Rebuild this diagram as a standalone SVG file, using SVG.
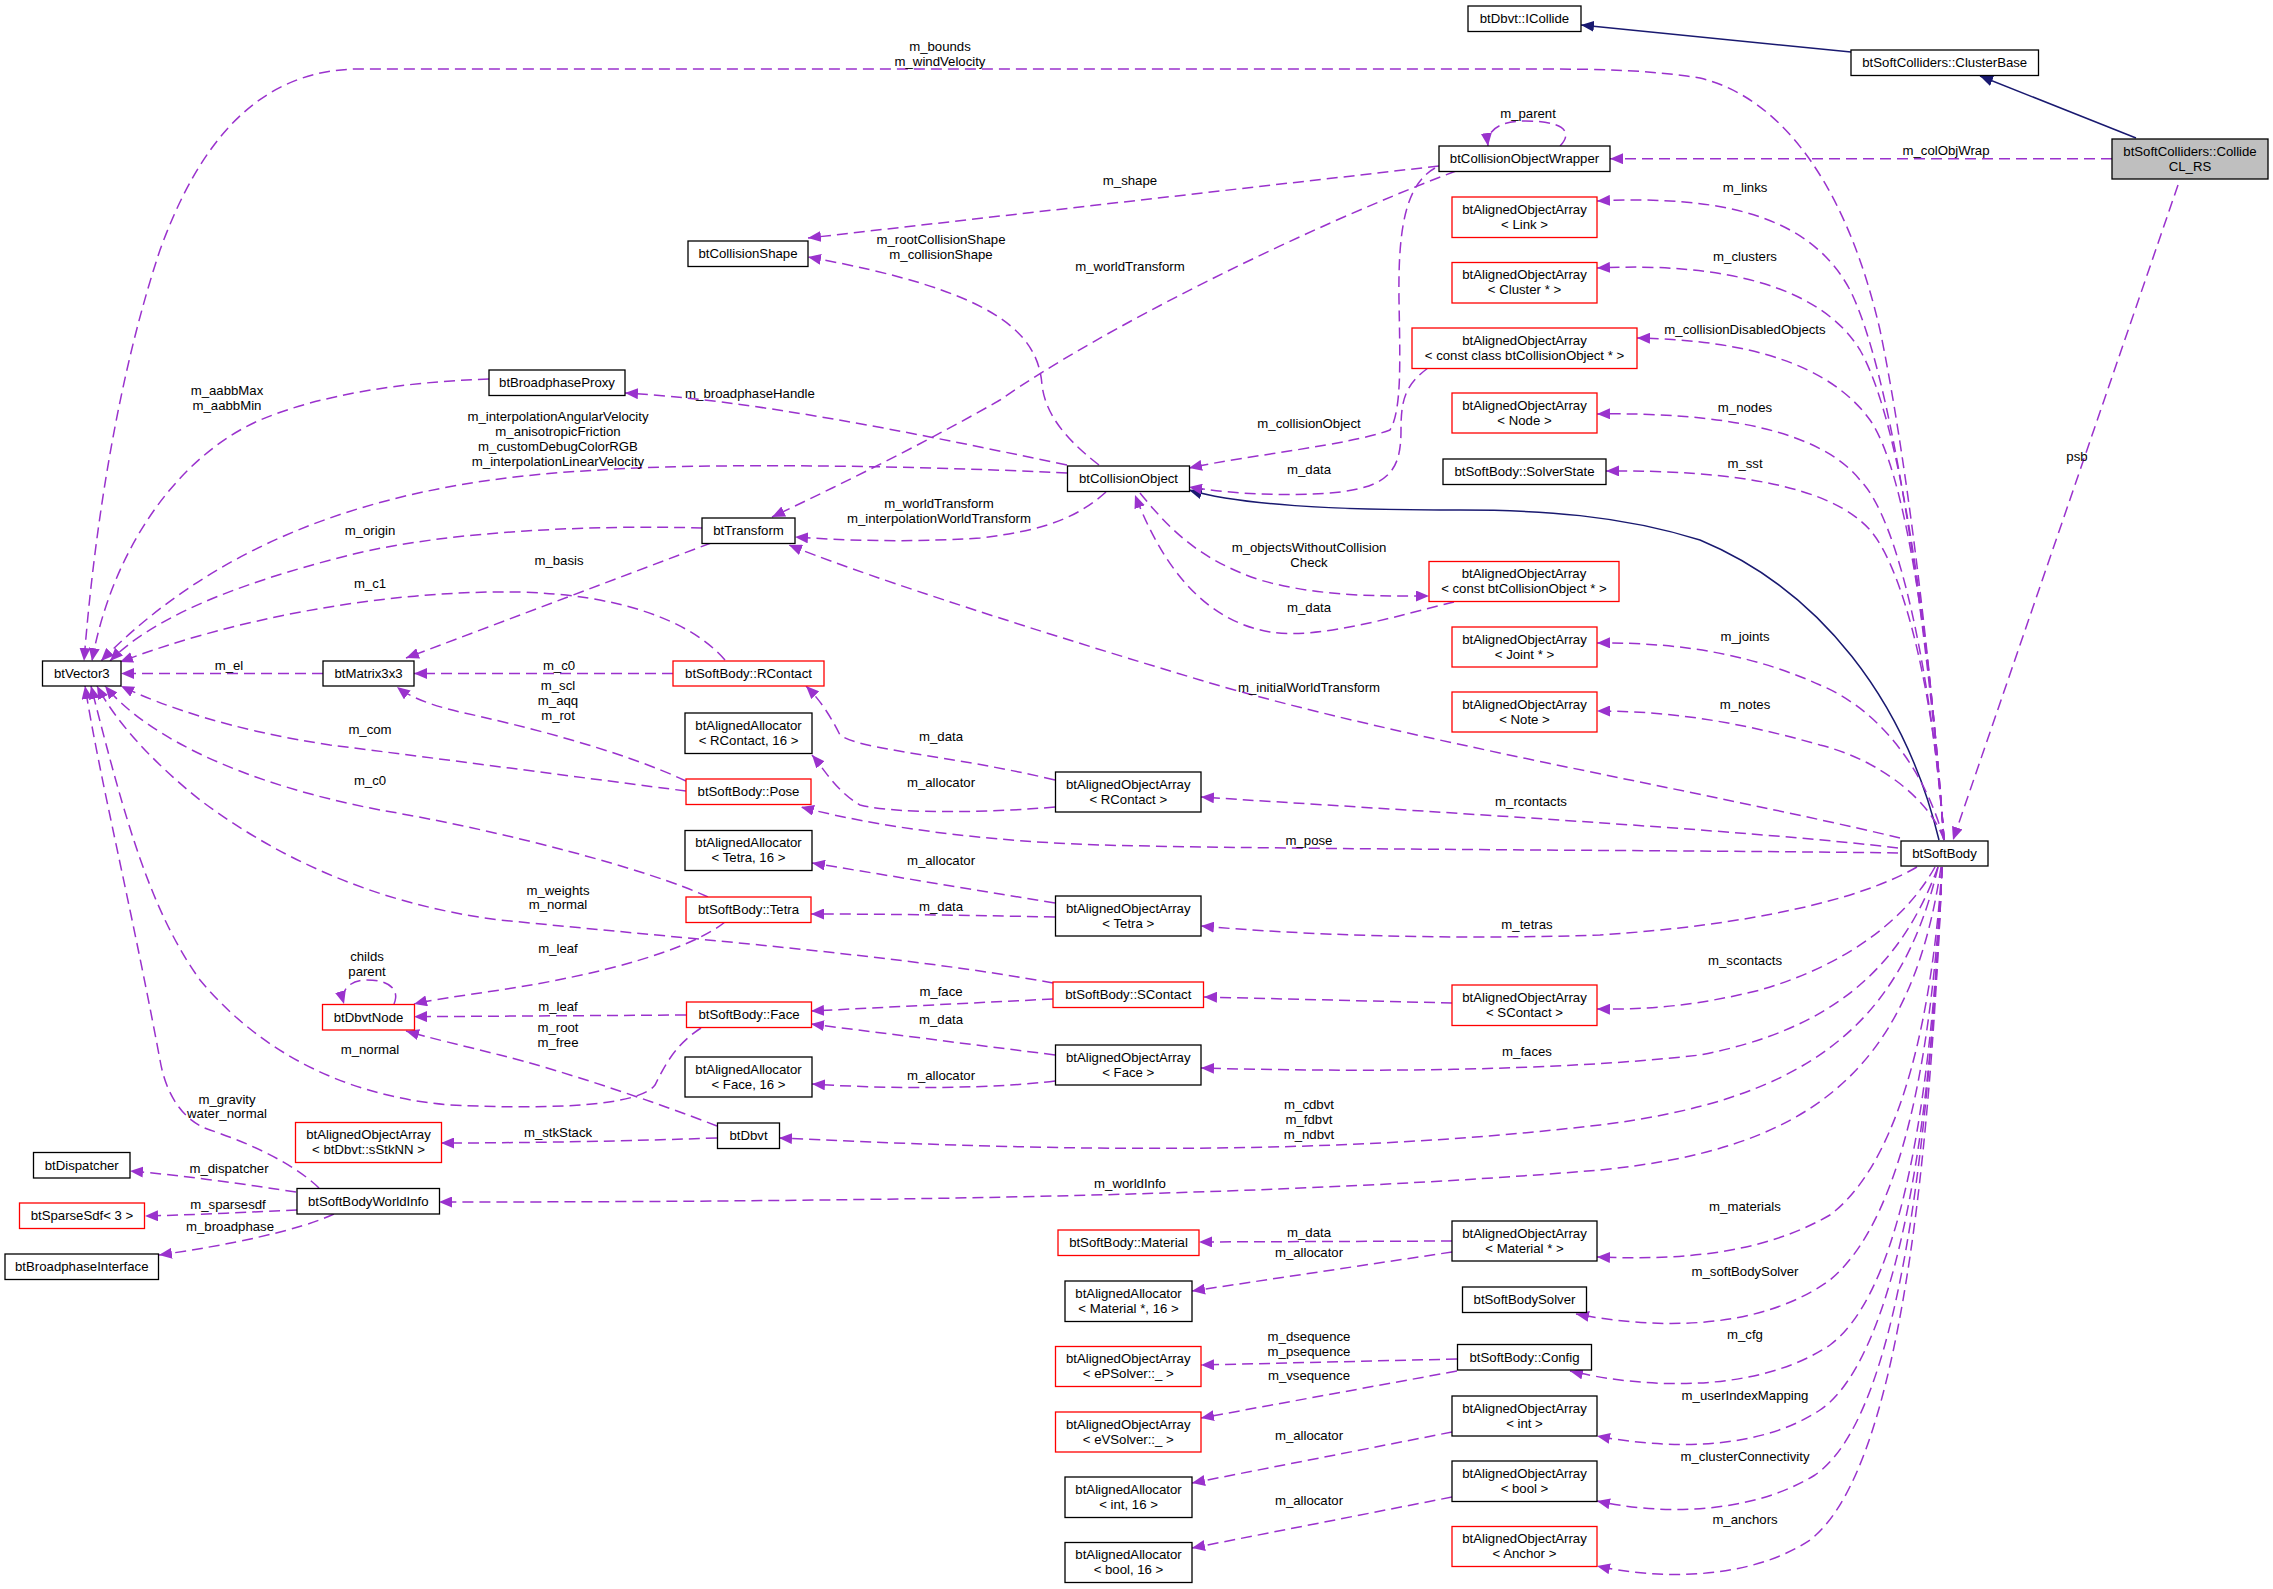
<svg xmlns="http://www.w3.org/2000/svg" width="2273" height="1589" viewBox="0 0 2273 1589">
<style>
rect{fill:#fff;stroke:#000;stroke-width:1.3}
rect.r{stroke:#ff0000}
rect.c{fill:#bfbfbf}
text{font-family:"Liberation Sans",Arial,sans-serif;font-size:13.2px;fill:#000;text-anchor:middle}
.e{fill:none;stroke:#9a32cd;stroke-width:1.5;stroke-dasharray:11,6;marker-end:url(#pa)}
.i{fill:none;stroke:#191970;stroke-width:1.5;marker-end:url(#na)}
</style>
<defs>
<marker id="pa" markerUnits="userSpaceOnUse" markerWidth="14" markerHeight="11" refX="13" refY="5.5" orient="auto"><path d="M0,0 L13,5.5 L0,11 z" fill="#9a32cd" stroke="none"/></marker>
<marker id="na" markerUnits="userSpaceOnUse" markerWidth="14" markerHeight="11" refX="13" refY="5.5" orient="auto"><path d="M0,0 L13,5.5 L0,11 z" fill="#191970" stroke="none"/></marker>
</defs>
<rect x="0" y="0" width="2273" height="1589" style="fill:#fff;stroke:none"/>
<g id="edges">
<path class="i" d="M1851,52 L1581,25"/>
<path class="i" d="M2136,138 L1980,76"/>
<path class="i" d="M1939,840 C1905,700 1820,590 1700,540 C1620,515 1540,510 1460,510 C1330,510 1240,505 1189,490"/>
<path class="e" d="M1944,840 C1930,650 1905,450 1880,330 C1850,200 1790,100 1700,78 C1650,70 1600,69 1540,69 L360,69 C260,69 200,140 160,250 C120,370 95,520 84,661"/>
<path class="e" d="M2112,158.7 L1610,158.7"/>
<path class="e" d="M2178,185 L1953,840"/>
<path class="e" d="M1560,146 C1575,130 1560,121 1525,121 C1500,121 1486,130 1488,146"/>
<path class="e" d="M1439,166 L808,238"/>
<path class="e" d="M1456,171 C1300,230 1100,330 1000,400 C930,440 850,480 772,517"/>
<path class="e" d="M1435,168 C1405,185 1398,230 1399,300 C1400,360 1402,410 1390,430 C1350,445 1250,455 1189,468"/>
<path class="e" d="M1428,368 C1405,385 1401,400 1401,430 C1401,470 1390,488 1330,493 C1270,497 1220,492 1189,487"/>
<path class="e" d="M1944,840 C1925,600 1890,370 1850,290 C1810,215 1720,195 1597,201"/>
<path class="e" d="M1944,840 C1928,620 1900,420 1860,350 C1820,285 1720,262 1597,268"/>
<path class="e" d="M1944,840 C1930,640 1905,470 1870,420 C1830,365 1750,340 1637,338"/>
<path class="e" d="M1944,840 C1932,680 1900,520 1860,480 C1820,430 1720,412 1597,414"/>
<path class="e" d="M1944,840 C1935,700 1905,570 1870,530 C1830,485 1730,470 1606,471"/>
<path class="e" d="M1944,840 C1925,770 1880,710 1820,685 C1760,658 1690,642 1597,643"/>
<path class="e" d="M1944,840 C1930,800 1880,760 1820,745 C1750,725 1680,711 1597,711"/>
<path class="e" d="M1900,838 C1700,790 1400,740 1200,680 C1000,620 850,570 789,545"/>
<path class="e" d="M1898,848 C1750,830 1400,810 1201,797"/>
<path class="e" d="M1898,853 C1700,850 1300,850 1100,845 C950,840 850,820 801,807"/>
<path class="e" d="M1917,867 C1860,900 1750,925 1600,935 C1450,940 1300,935 1201,926"/>
<path class="e" d="M1935,867 C1900,930 1830,970 1760,990 C1700,1005 1650,1010 1597,1009"/>
<path class="e" d="M1938,867 C1900,970 1830,1030 1700,1055 C1550,1072 1350,1072 1201,1068"/>
<path class="e" d="M1938,867 C1900,1030 1800,1100 1600,1125 C1300,1160 1000,1148 779,1138"/>
<path class="e" d="M1941,867 C1910,1080 1800,1150 1600,1170 C1300,1195 900,1202 439,1202"/>
<path class="e" d="M1942,867 C1930,1050 1890,1170 1830,1215 C1760,1255 1680,1260 1597,1257"/>
<path class="e" d="M1942,867 C1930,1100 1890,1230 1830,1280 C1760,1330 1660,1330 1576,1314"/>
<path class="e" d="M1942,867 C1930,1150 1890,1300 1830,1345 C1760,1392 1650,1390 1570,1371"/>
<path class="e" d="M1942,867 C1930,1200 1880,1370 1820,1410 C1760,1450 1670,1450 1597,1436"/>
<path class="e" d="M1942,867 C1925,1250 1880,1430 1815,1475 C1750,1515 1660,1515 1597,1501"/>
<path class="e" d="M1942,867 C1925,1300 1875,1490 1810,1540 C1750,1580 1660,1580 1597,1566"/>
<path class="e" d="M489,379 C400,382 320,395 260,420 C170,460 110,560 92,661"/>
<path class="e" d="M1067,465 C900,430 750,400 625,393"/>
<path class="e" d="M1099,465 C1060,435 1045,410 1042,385 C1038,330 990,290 808,257"/>
<path class="e" d="M1067,473 C900,465 700,463 600,470 C400,480 230,530 101,661"/>
<path class="e" d="M1106,492 C1080,515 1050,530 980,538 C900,543 840,540 795,537"/>
<path class="e" d="M702,528 C600,525 450,530 350,555 C230,585 150,620 110,661"/>
<path class="e" d="M711,543 L406,658"/>
<path class="e" d="M725,660 C690,620 620,595 520,592 C380,590 230,620 120,662"/>
<path class="e" d="M323,673.5 L121,673.5"/>
<path class="e" d="M673,673.5 L414,673.5"/>
<path class="e" d="M686,781 C620,750 520,725 460,712 C430,705 410,697 397,687"/>
<path class="e" d="M686,791 C600,780 450,760 330,745 C230,730 160,705 121,686"/>
<path class="e" d="M708,897 C650,870 500,830 380,810 C250,785 150,740 105,686"/>
<path class="e" d="M725,922 C690,950 600,975 500,990 C460,996 430,1000 414,1004"/>
<path class="e" d="M686,1015 L414,1016.7"/>
<path class="e" d="M717,1126 C650,1100 560,1070 500,1055 C460,1045 430,1038 406,1031"/>
<path class="e" d="M394,1004 C400,990 390,980 367,980 C350,980 340,990 344,1004"/>
<path class="e" d="M1053,983 C900,955 700,940 500,920 C380,905 280,860 200,800 C150,760 115,720 97,686"/>
<path class="e" d="M701,1028 C675,1045 665,1065 655,1085 C640,1105 560,1110 450,1105 C330,1095 250,1040 200,980 C150,910 125,820 91,686"/>
<path class="e" d="M319,1188 C290,1160 240,1140 210,1130 C180,1120 165,1090 160,1060 C130,900 100,780 85,686"/>
<path class="e" d="M296,1192 C250,1185 180,1175 130,1171"/>
<path class="e" d="M297,1210 C250,1212 190,1215 145,1216"/>
<path class="e" d="M334,1214 C300,1230 230,1245 159,1255"/>
<path class="e" d="M717,1138 C600,1142 500,1143 441,1143"/>
<path class="e" d="M1055,780 C950,755 860,750 840,735 C830,715 820,700 806,686"/>
<path class="e" d="M1055,807 C1000,812 900,815 860,805 C835,790 825,770 812,755"/>
<path class="e" d="M1055,903 L812,863"/>
<path class="e" d="M1055,917 C950,915 880,914 811,914"/>
<path class="e" d="M1053,999 L811,1011"/>
<path class="e" d="M1055,1055 L811,1024"/>
<path class="e" d="M1055,1081 C1000,1088 900,1090 812,1084"/>
<path class="e" d="M1452,1003 L1204,997"/>
<path class="e" d="M1452,1241 L1199,1242"/>
<path class="e" d="M1452,1252 L1192,1291"/>
<path class="e" d="M1457,1359 L1201,1365"/>
<path class="e" d="M1457,1371 L1201,1418"/>
<path class="e" d="M1452,1432 L1192,1483"/>
<path class="e" d="M1452,1497 L1192,1548"/>
<path class="e" d="M1140,493 C1170,530 1200,560 1260,580 C1320,597 1380,596 1429,596"/>
<path class="e" d="M1454,602 C1400,615 1320,640 1270,632 C1200,620 1160,560 1135,495"/>
<g id="edge-labels">
<text x="940" y="51"><tspan x="940">m_bounds</tspan><tspan x="940" dy="14.5">m_windVelocity</tspan></text>
<text x="1528" y="117.5">m_parent</text>
<text x="1946" y="155">m_colObjWrap</text>
<text x="1130" y="184.5">m_shape</text>
<text x="1745" y="192">m_links</text>
<text x="941" y="243.5"><tspan x="941">m_rootCollisionShape</tspan><tspan x="941" dy="15">m_collisionShape</tspan></text>
<text x="1130" y="271">m_worldTransform</text>
<text x="1745" y="261">m_clusters</text>
<text x="1745" y="333.5">m_collisionDisabledObjects</text>
<text x="227" y="395"><tspan x="227">m_aabbMax</tspan><tspan x="227" dy="14.5">m_aabbMin</tspan></text>
<text x="750" y="397.5">m_broadphaseHandle</text>
<text x="558" y="420.5"><tspan x="558">m_interpolationAngularVelocity</tspan><tspan x="558" dy="15">m_anisotropicFriction</tspan><tspan x="558" dy="15">m_customDebugColorRGB</tspan><tspan x="558" dy="15">m_interpolationLinearVelocity</tspan></text>
<text x="1309" y="427.5">m_collisionObject</text>
<text x="1745" y="411.5">m_nodes</text>
<text x="2077" y="460.5">psb</text>
<text x="1309" y="473.5">m_data</text>
<text x="1745" y="467.5">m_sst</text>
<text x="939" y="507.5"><tspan x="939">m_worldTransform</tspan><tspan x="939" dy="15">m_interpolationWorldTransform</tspan></text>
<text x="370" y="535">m_origin</text>
<text x="559" y="564.5">m_basis</text>
<text x="370" y="587.5">m_c1</text>
<text x="1309" y="552"><tspan x="1309">m_objectsWithoutCollision</tspan><tspan x="1309" dy="15">Check</tspan></text>
<text x="1309" y="612">m_data</text>
<text x="1745" y="641">m_joints</text>
<text x="229" y="669.5">m_el</text>
<text x="559" y="669.5">m_c0</text>
<text x="558" y="689.5"><tspan x="558">m_scl</tspan><tspan x="558" dy="15">m_aqq</tspan><tspan x="558" dy="15">m_rot</tspan></text>
<text x="1309" y="691.5">m_initialWorldTransform</text>
<text x="1745" y="708.5">m_notes</text>
<text x="370" y="733.5">m_com</text>
<text x="941" y="741">m_data</text>
<text x="941" y="787">m_allocator</text>
<text x="1531" y="805.5">m_rcontacts</text>
<text x="370" y="784.5">m_c0</text>
<text x="1309" y="844.5">m_pose</text>
<text x="941" y="865">m_allocator</text>
<text x="558" y="895"><tspan x="558">m_weights</tspan><tspan x="558" dy="14">m_normal</tspan></text>
<text x="941" y="911">m_data</text>
<text x="1527" y="928.5">m_tetras</text>
<text x="558" y="952.5">m_leaf</text>
<text x="367" y="961"><tspan x="367">childs</tspan><tspan x="367" dy="15">parent</tspan></text>
<text x="1745" y="965">m_scontacts</text>
<text x="941" y="996">m_face</text>
<text x="558" y="1011">m_leaf</text>
<text x="941" y="1023.5">m_data</text>
<text x="558" y="1032"><tspan x="558">m_root</tspan><tspan x="558" dy="15">m_free</tspan></text>
<text x="370" y="1053.5">m_normal</text>
<text x="1527" y="1055.5">m_faces</text>
<text x="941" y="1080">m_allocator</text>
<text x="227" y="1103.5"><tspan x="227">m_gravity</tspan><tspan x="227" dy="14">water_normal</tspan></text>
<text x="558" y="1137">m_stkStack</text>
<text x="1309" y="1108.5"><tspan x="1309">m_cdbvt</tspan><tspan x="1309" dy="15">m_fdbvt</tspan><tspan x="1309" dy="15">m_ndbvt</tspan></text>
<text x="229" y="1172.5">m_dispatcher</text>
<text x="1130" y="1187.5">m_worldInfo</text>
<text x="228" y="1208.5">m_sparsesdf</text>
<text x="1745" y="1210.5">m_materials</text>
<text x="230" y="1231">m_broadphase</text>
<text x="1309" y="1236.5">m_data</text>
<text x="1309" y="1256.5">m_allocator</text>
<text x="1745" y="1275.5">m_softBodySolver</text>
<text x="1745" y="1339">m_cfg</text>
<text x="1309" y="1341"><tspan x="1309">m_dsequence</tspan><tspan x="1309" dy="15">m_psequence</tspan></text>
<text x="1309" y="1380">m_vsequence</text>
<text x="1745" y="1400">m_userIndexMapping</text>
<text x="1309" y="1440">m_allocator</text>
<text x="1745" y="1461">m_clusterConnectivity</text>
<text x="1309" y="1505">m_allocator</text>
<text x="1745" y="1524">m_anchors</text>
</g>
</g>
<g id="node-ICollide"><rect x="1468" y="6" width="113" height="25.5"/><text x="1524.5" y="23.25">btDbvt::ICollide</text></g>
<g id="node-ClusterBase"><rect x="1851" y="50" width="187.5" height="25.5"/><text x="1944.75" y="67.25">btSoftColliders::ClusterBase</text></g>
<g id="node-CollideCL_RS"><rect class="c" x="2112" y="139" width="156" height="40"/><text x="2190" y="155.5">btSoftColliders::Collide</text><text x="2190" y="170.5">CL_RS</text></g>
<g id="node-CollisionObjectWrapper"><rect x="1439" y="146" width="171" height="25.5"/><text x="1524.5" y="163.25">btCollisionObjectWrapper</text></g>
<g id="node-CollisionShape"><rect x="688" y="241" width="120" height="25.5"/><text x="748" y="258.25">btCollisionShape</text></g>
<g id="node-ArrLink"><rect class="r" x="1452" y="197" width="145" height="40.5"/><text x="1524.5" y="213.5">btAlignedObjectArray</text><text x="1524.5" y="228.5">&lt; Link &gt;</text></g>
<g id="node-ArrCluster"><rect class="r" x="1452" y="262.5" width="145" height="40.5"/><text x="1524.5" y="279">btAlignedObjectArray</text><text x="1524.5" y="294">&lt; Cluster * &gt;</text></g>
<g id="node-ArrConstClassCO"><rect class="r" x="1412" y="328" width="225" height="40.5"/><text x="1524.5" y="344.5">btAlignedObjectArray</text><text x="1524.5" y="359.5">&lt; const class btCollisionObject * &gt;</text></g>
<g id="node-BroadphaseProxy"><rect x="489" y="370" width="136" height="25.5"/><text x="557" y="387.25">btBroadphaseProxy</text></g>
<g id="node-ArrNode"><rect class="r" x="1452" y="393" width="145" height="40"/><text x="1524.5" y="409.5">btAlignedObjectArray</text><text x="1524.5" y="424.5">&lt; Node &gt;</text></g>
<g id="node-SolverState"><rect x="1443" y="459" width="163" height="25.5"/><text x="1524.5" y="476.25">btSoftBody::SolverState</text></g>
<g id="node-CollisionObject"><rect x="1067.5" y="466" width="122" height="25.5"/><text x="1128.5" y="483.25">btCollisionObject</text></g>
<g id="node-Transform"><rect x="702" y="518" width="93" height="25.5"/><text x="748.5" y="535.25">btTransform</text></g>
<g id="node-ArrConstCO"><rect class="r" x="1429" y="561.5" width="190" height="40"/><text x="1524" y="578">btAlignedObjectArray</text><text x="1524" y="593">&lt; const btCollisionObject * &gt;</text></g>
<g id="node-ArrJoint"><rect class="r" x="1452" y="627" width="145" height="40"/><text x="1524.5" y="643.5">btAlignedObjectArray</text><text x="1524.5" y="658.5">&lt; Joint * &gt;</text></g>
<g id="node-Vector3"><rect x="42.5" y="661" width="78.5" height="25"/><text x="81.75" y="678">btVector3</text></g>
<g id="node-Matrix3x3"><rect x="323" y="661" width="91" height="25"/><text x="368.5" y="678">btMatrix3x3</text></g>
<g id="node-RContact"><rect class="r" x="673" y="661" width="151" height="25"/><text x="748.5" y="678">btSoftBody::RContact</text></g>
<g id="node-ArrNote"><rect class="r" x="1452" y="692" width="145" height="40"/><text x="1524.5" y="708.5">btAlignedObjectArray</text><text x="1524.5" y="723.5">&lt; Note &gt;</text></g>
<g id="node-AllocRContact"><rect x="685" y="713" width="127" height="40.5"/><text x="748.5" y="729.5">btAlignedAllocator</text><text x="748.5" y="744.5">&lt; RContact, 16 &gt;</text></g>
<g id="node-ArrRContact"><rect x="1055.5" y="772" width="145.5" height="40"/><text x="1128.25" y="788.5">btAlignedObjectArray</text><text x="1128.25" y="803.5">&lt; RContact &gt;</text></g>
<g id="node-Pose"><rect class="r" x="686" y="779" width="125" height="25.5"/><text x="748.5" y="796.25">btSoftBody::Pose</text></g>
<g id="node-SoftBody"><rect x="1901" y="841" width="87" height="25"/><text x="1944.5" y="858">btSoftBody</text></g>
<g id="node-AllocTetra"><rect x="685" y="830.5" width="127" height="40"/><text x="748.5" y="847">btAlignedAllocator</text><text x="748.5" y="862">&lt; Tetra, 16 &gt;</text></g>
<g id="node-Tetra"><rect class="r" x="686" y="897" width="125" height="25.5"/><text x="748.5" y="914.25">btSoftBody::Tetra</text></g>
<g id="node-ArrTetra"><rect x="1055.5" y="896" width="145.5" height="40"/><text x="1128.25" y="912.5">btAlignedObjectArray</text><text x="1128.25" y="927.5">&lt; Tetra &gt;</text></g>
<g id="node-SContact"><rect class="r" x="1053" y="982" width="150.5" height="25.5"/><text x="1128.25" y="999.25">btSoftBody::SContact</text></g>
<g id="node-ArrSContact"><rect class="r" x="1452" y="985" width="145" height="40.5"/><text x="1524.5" y="1001.5">btAlignedObjectArray</text><text x="1524.5" y="1016.5">&lt; SContact &gt;</text></g>
<g id="node-DbvtNode"><rect class="r" x="322.5" y="1004.5" width="92" height="25.5"/><text x="368.5" y="1021.75">btDbvtNode</text></g>
<g id="node-Face"><rect class="r" x="686.5" y="1002" width="125" height="25.5"/><text x="749" y="1019.25">btSoftBody::Face</text></g>
<g id="node-ArrFace"><rect x="1055.5" y="1045" width="145.5" height="40"/><text x="1128.25" y="1061.5">btAlignedObjectArray</text><text x="1128.25" y="1076.5">&lt; Face &gt;</text></g>
<g id="node-AllocFace"><rect x="685" y="1057" width="127" height="40"/><text x="748.5" y="1073.5">btAlignedAllocator</text><text x="748.5" y="1088.5">&lt; Face, 16 &gt;</text></g>
<g id="node-Dbvt"><rect x="717.5" y="1123" width="62" height="25.5"/><text x="748.5" y="1140.25">btDbvt</text></g>
<g id="node-ArrStkNN"><rect class="r" x="295.5" y="1122.5" width="146" height="40"/><text x="368.5" y="1139">btAlignedObjectArray</text><text x="368.5" y="1154">&lt; btDbvt::sStkNN &gt;</text></g>
<g id="node-Dispatcher"><rect x="33.5" y="1152.5" width="96.5" height="25.5"/><text x="81.75" y="1169.75">btDispatcher</text></g>
<g id="node-WorldInfo"><rect x="297" y="1188.5" width="142.5" height="25.5"/><text x="368.25" y="1205.75">btSoftBodyWorldInfo</text></g>
<g id="node-SparseSdf"><rect class="r" x="19.5" y="1203" width="125" height="25.5"/><text x="82" y="1220.25">btSparseSdf&lt; 3 &gt;</text></g>
<g id="node-BroadphaseInterface"><rect x="5" y="1254" width="153.5" height="25.5"/><text x="81.75" y="1271.25">btBroadphaseInterface</text></g>
<g id="node-Material"><rect class="r" x="1058" y="1230" width="141" height="25.5"/><text x="1128.5" y="1247.25">btSoftBody::Material</text></g>
<g id="node-ArrMaterial"><rect x="1452" y="1221" width="145" height="40"/><text x="1524.5" y="1237.5">btAlignedObjectArray</text><text x="1524.5" y="1252.5">&lt; Material * &gt;</text></g>
<g id="node-AllocMaterial"><rect x="1065" y="1281" width="127" height="40.5"/><text x="1128.5" y="1297.5">btAlignedAllocator</text><text x="1128.5" y="1312.5">&lt; Material *, 16 &gt;</text></g>
<g id="node-SoftBodySolver"><rect x="1462.5" y="1287" width="124" height="25.5"/><text x="1524.5" y="1304.25">btSoftBodySolver</text></g>
<g id="node-ArrePSolver"><rect class="r" x="1055.5" y="1346.5" width="145.5" height="40"/><text x="1128.25" y="1363">btAlignedObjectArray</text><text x="1128.25" y="1378">&lt; ePSolver::_ &gt;</text></g>
<g id="node-Config"><rect x="1457.5" y="1344.5" width="134" height="25.5"/><text x="1524.5" y="1361.75">btSoftBody::Config</text></g>
<g id="node-ArreVSolver"><rect class="r" x="1055.5" y="1412" width="145.5" height="40"/><text x="1128.25" y="1428.5">btAlignedObjectArray</text><text x="1128.25" y="1443.5">&lt; eVSolver::_ &gt;</text></g>
<g id="node-ArrInt"><rect x="1452" y="1396" width="145" height="40"/><text x="1524.5" y="1412.5">btAlignedObjectArray</text><text x="1524.5" y="1427.5">&lt; int &gt;</text></g>
<g id="node-AllocInt"><rect x="1065" y="1477" width="127" height="40.5"/><text x="1128.5" y="1493.5">btAlignedAllocator</text><text x="1128.5" y="1508.5">&lt; int, 16 &gt;</text></g>
<g id="node-ArrBool"><rect x="1452" y="1461" width="145" height="40.5"/><text x="1524.5" y="1477.5">btAlignedObjectArray</text><text x="1524.5" y="1492.5">&lt; bool &gt;</text></g>
<g id="node-AllocBool"><rect x="1065" y="1542.5" width="127" height="40"/><text x="1128.5" y="1559">btAlignedAllocator</text><text x="1128.5" y="1574">&lt; bool, 16 &gt;</text></g>
<g id="node-ArrAnchor"><rect class="r" x="1452" y="1526.5" width="145" height="40"/><text x="1524.5" y="1543">btAlignedObjectArray</text><text x="1524.5" y="1558">&lt; Anchor &gt;</text></g>
</svg>
